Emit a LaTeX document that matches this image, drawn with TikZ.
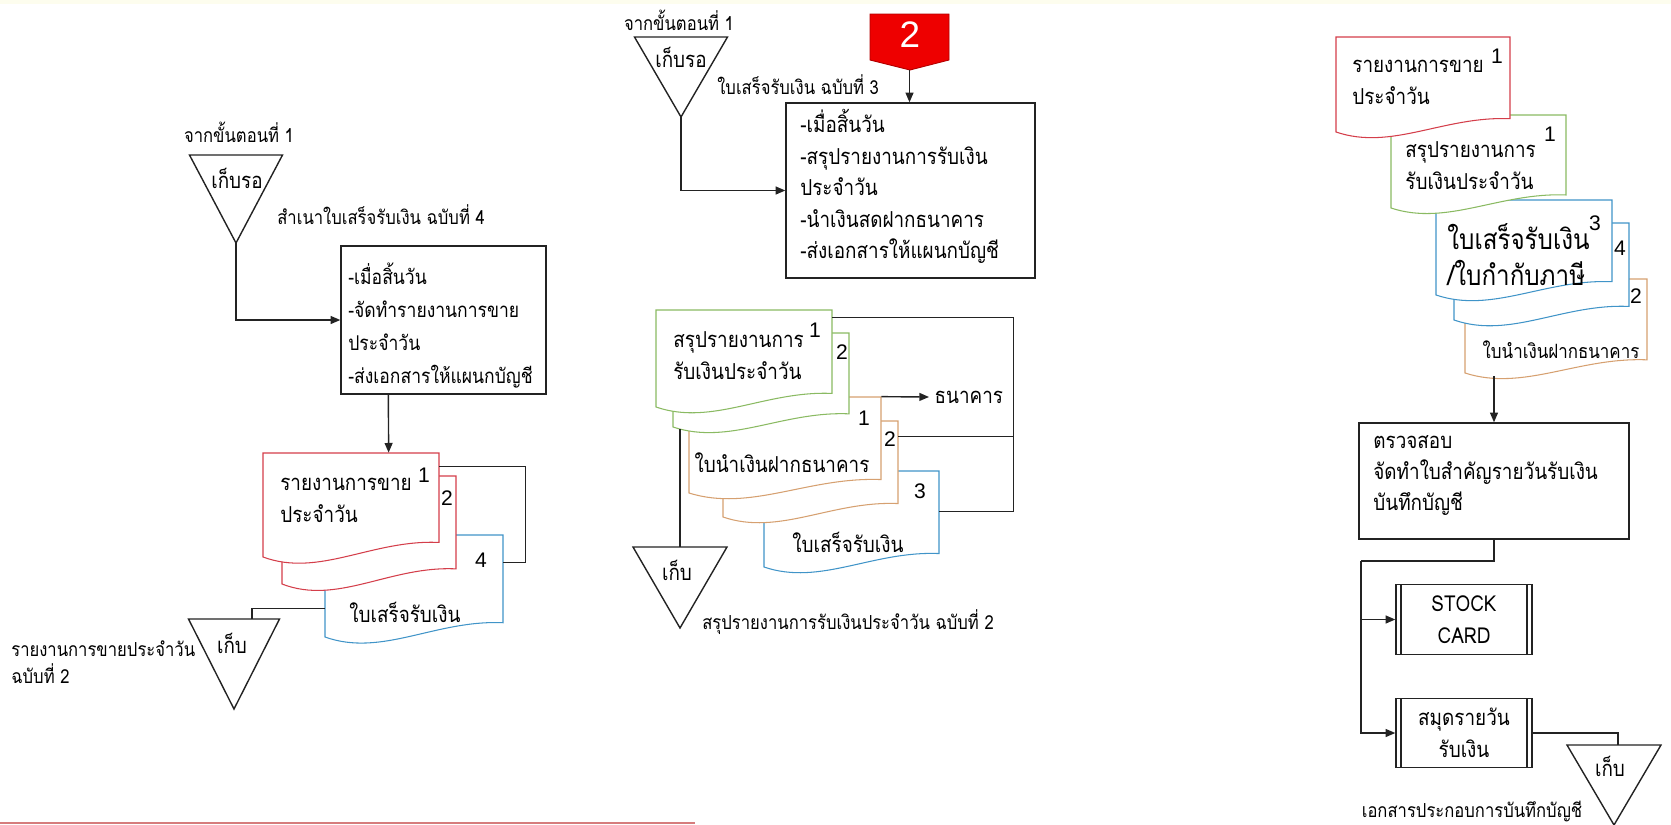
\documentclass[tikz,border=0pt]{standalone}
\usepackage{fontspec}
\setmainfont[Script=Thai, FakeStretch=0.86]{Loma}
\newfontfamily\numfont{Liberation Sans}
\usetikzlibrary{arrows.meta,calc,fit}

\definecolor{docred}{RGB}{212,62,74}
\definecolor{docgreen}{RGB}{138,186,98}
\definecolor{docblue}{RGB}{64,148,200}
\definecolor{docorange}{RGB}{214,160,112}
\definecolor{linegray}{RGB}{35,35,35}
\definecolor{markred}{RGB}{238,0,0}
\definecolor{rulered}{RGB}{214,124,124}
\definecolor{topband}{RGB}{253,253,238}

\newcommand{\bodysize}{\fontsize{12.5}{18.3}\selectfont}
\newcommand{\docsize}{\fontsize{12.5}{18.3}\selectfont}
\newcommand{\bigdocsize}{\fontsize{16}{20.5}\selectfont}
\newcommand{\smallsize}{\fontsize{11}{15.5}\selectfont}

% document symbol: name, left, top, right, bottom (left end of the wave), colour
\newcommand{\Doc}[6]{%
  \filldraw[docline, draw=#6] (#2,#3) -- (#4,#3) -- (#4,{#3+0.86*(#5-#3)})
    .. controls ({#2+0.62*(#4-#2)},{#3+0.83*(#5-#3)}) and ({#2+0.32*(#4-#2)},{#3+1.2*(#5-#3)}) .. (#2,#5) -- cycle;
  \node[inner sep=0pt, fit={(#2,#3) (#4,#5)}] (#1) {};
}
% file symbol (downward triangle): name, centre x, top, width, height
\newcommand{\Tri}[5]{%
  \draw[line] ({#2-#4/2},#3) -- ({#2+#4/2},#3) -- (#2,{#3+#5}) -- cycle;
  \node[inner sep=0pt, fit={({#2-#4/2},#3) ({#2+#4/2},{#3+#5})}] (#1) {};
}

\begin{document}
\begin{tikzpicture}[x=0.02cm,y=-0.02cm,
  line/.style={draw=linegray, line width=0.8pt},
  docline/.style={line width=0.6pt, fill=white},
  arr/.style={line, -{Triangle[length=5.5pt,width=4.5pt]}},
  box/.style={line, rectangle, inner sep=0pt},
  boxtext/.style={anchor=west, align=left, inner sep=0pt},
  proc/.style={line, rectangle, align=center, inner sep=0pt, font=\bodysize,
    minimum width=2.72cm, minimum height=1.39cm,
    path picture={
      \draw[line] ([xshift=0.1cm]path picture bounding box.north west) -- ([xshift=0.1cm]path picture bounding box.south west);
      \draw[line] ([xshift=-0.1cm]path picture bounding box.north east) -- ([xshift=-0.1cm]path picture bounding box.south east);
    }},
  doctext/.style={anchor=west, align=left, inner sep=0pt, font=\docsize},
  lbl/.style={inner sep=0pt, font=\smallsize},
  num/.style={inner sep=0pt, font=\numfont\fontsize{12}{14}\selectfont},
  tritext/.style={inner sep=0pt, font=\bodysize},
]
\useasboundingbox (0,0) rectangle (1671,825);
\fill[topband] (0,0) rectangle (1671,4);
\draw[rulered, line width=1.2pt] (0,823) -- (695,823);

% ---------------- left column: daily sales report ----------------
\node[lbl] (from1) at (239,132) {จากขั้นตอนที่ 1};
\Tri{wait1}{236}{155}{93}{88}
\node[tritext] (wait1t) at (237,178) {เก็บรอ};
\node[lbl, anchor=west] (copy4) at (277,215) {สำเนาใบเสร็จรับเงิน ฉบับที่ 4};

\node[box, minimum width=4.1cm, minimum height=2.96cm] (box1) at (443.5,320) {};
\node[boxtext, font=\fontsize{11.6}{18.9}\selectfont] (box1t) at (348,325.5)
  {-เมื่อสิ้นวัน\\-จัดทำรายงานการขาย\\ประจำวัน\\-ส่งเอกสารให้แผนกบัญชี};

\Doc{lrec}{325}{535}{503}{637}{docblue}
\Doc{lrep2}{282}{476}{456}{584}{docred}
\Doc{lrep1}{263}{453}{439}{557}{docred}
\node[doctext] (lrep1t) at (280,500) {รายงานการขาย\\ประจำวัน};
\node[num] (lrep1n) at (424,475) {1};
\node[num] (lrep2n) at (447,498) {2};
\node[num] (lrecn) at (481,560) {4};
\node[inner sep=0pt, font=\docsize] (lrect) at (405,612) {ใบเสร็จรับเงิน};

\Tri{file1}{234}{619}{91}{90}
\node[tritext] (file1t) at (232,643) {เก็บ};
\node[lbl, anchor=west, align=left] (file1l) at (11,662) {รายงานการขายประจำวัน\\ฉบับที่ 2};

\draw[arr] (wait1.south) |- (box1.west);
\draw[arr] ($(box1.south west)+(48,0)$) -- ($(lrep1.north west)+(126,0)$);
\draw[line] ($(lrep1.north east)+(0,14)$) -| ($(lrec.north east)+(22,28)$) -- ($(lrec.north east)+(0,28)$);
\draw[line] ($(lrec.north west)+(0,74)$) -| ($(file1.north)+(18,0)$);

% ---------------- middle column: daily receipts summary ----------------
\node[lbl] (from2) at (679,20) {จากขั้นตอนที่ 1};
\Tri{wait2}{681}{37}{93}{80}
\node[tritext] (wait2t) at (681,57) {เก็บรอ};
\node[lbl, anchor=west] (copy3) at (717,85) {ใบเสร็จรับเงิน ฉบับที่ 3};

\filldraw[fill=markred, draw=markred!75!black, line width=0.5pt]
  (870,14) -- (949,14) -- (949,60) -- (910,70) -- (870,60) -- cycle;
\node[inner sep=0pt, fit={(870,14) (949,70)}] (step2) {};
\node[inner sep=0pt, text=white, font=\numfont\fontsize{21}{24}\selectfont] (step2t) at (910,35) {2};

\node[box, minimum width=4.98cm, minimum height=3.5cm] (box2) at (910.5,190.5) {};
\node[boxtext, font=\fontsize{12.5}{18}\selectfont] (box2t) at (800,186.5)
  {-เมื่อสิ้นวัน\\-สรุปรายงานการรับเงิน\\ประจำวัน\\-นำเงินสดฝากธนาคาร\\-ส่งเอกสารให้แผนกบัญชี};

\Doc{mrec}{764}{471}{939}{567}{docblue}
\Doc{mdep2}{723}{421}{898}{517}{docorange}
\Doc{mdep1}{689}{397}{881}{493}{docorange}
\Doc{msum2}{673}{333}{849}{427}{docgreen}
\Doc{msum1}{656}{310}{832}{407}{docgreen}
\node[doctext] (msum1t) at (673,356) {สรุปรายงานการ\\รับเงินประจำวัน};
\node[num] (msum1n) at (815,330) {1};
\node[num] (msum2n) at (842,352) {2};
\node[inner sep=0pt, font=\docsize] (mdep1t) at (782,463) {ใบนำเงินฝากธนาคาร};
\node[num] (mdep1n) at (864,418) {1};
\node[num] (mdep2n) at (890,439) {2};
\node[inner sep=0pt, font=\docsize] (mrect) at (848,542) {ใบเสร็จรับเงิน};
\node[num] (mrecn) at (920,491) {3};
\node[inner ysep=0pt, inner xsep=3pt, font=\bodysize, anchor=west] (bank) at (929,397) {ธนาคาร};

\Tri{file2}{680}{547}{94}{81}
\node[tritext] (file2t) at (677,570) {เก็บ};
\node[lbl, anchor=west] (file2l) at (702,622) {สรุปรายงานการรับเงินประจำวัน ฉบับที่ 2};

\draw[arr] (wait2.south) |- (box2.west);
\draw[arr] (step2.south) -- (step2.south |- box2.north);
\draw[arr] (mdep1.north east) -- (bank.west);
\draw[line] ($(msum1.north east)+(0,8)$) -| ($(mrec.north east)+(74,41)$) -- ($(mrec.north east)+(0,41)$);
\draw[line] ($(mdep2.north east)+(0,16)$) -- ($(mdep2.north east)+(115,16)$);
\draw[line] (file2.north |- msum2.south) ++(0,2) -- (file2.north);

% ---------------- right column: accounting ----------------
\Doc{rdep}{1465}{279}{1647}{373}{docorange}
\Doc{rrec2}{1454}{223}{1629}{320}{docblue}
\Doc{rrec1}{1436}{200}{1612}{295}{docblue}
\Doc{rsum}{1391}{115}{1566}{208}{docgreen}
\Doc{rrep}{1336}{37}{1510}{132}{docred}
\node[doctext] (rrept) at (1352,82) {รายงานการขาย\\ประจำวัน};
\node[num] (rrepn) at (1497,56) {1};
\node[doctext] (rsumt) at (1405,166) {สรุปรายงานการ\\รับเงินประจำวัน};
\node[num] (rsumn) at (1550,134) {1};
\node[doctext, font=\bigdocsize] (rrect) at (1447,255) {ใบเสร็จรับเงิน\\/ใบกำกับภาษี};
\node[num] (rrec1n) at (1595,223) {3};
\node[num] (rrec2n) at (1620,248) {4};
\node[inner sep=0pt, font=\fontsize{11.2}{16}\selectfont] (rdept) at (1561,350) {ใบนำเงินฝากธนาคาร};
\node[num] (rdepn) at (1636,296) {2};

\node[box, minimum width=5.4cm, minimum height=2.32cm] (box3) at (1494,481) {};
\node[boxtext, font=\fontsize{12.5}{17.9}\selectfont] (box3t) at (1373,475.5)
  {ตรวจสอบ\\จัดทำใบสำคัญรายวันรับเงิน\\บันทึกบัญชี};
\node[proc] (stock) at (1464,619.5) {STOCK\\CARD};
\node[proc] (journal) at (1464,733) {สมุดรายวัน\\รับเงิน};

\Tri{file3}{1614}{745}{94}{80}
\node[tritext] (file3t) at (1610,766) {เก็บ};
\node[lbl] (file3l) at (1472,812) {เอกสารประกอบการบันทึกบัญชี};

\coordinate (trunk) at (1361,561);
\draw[arr] (box3.north |- rdep.south) ++(0,3) -- (box3.north);
\draw[line] (box3.south) |- (trunk);
\draw[arr] (trunk) |- (stock.west);
\draw[arr] (trunk) |- (journal.west);
\draw[line] (journal.east) -| ($(file3.north)+(4,0)$);
\end{tikzpicture}
\end{document}
